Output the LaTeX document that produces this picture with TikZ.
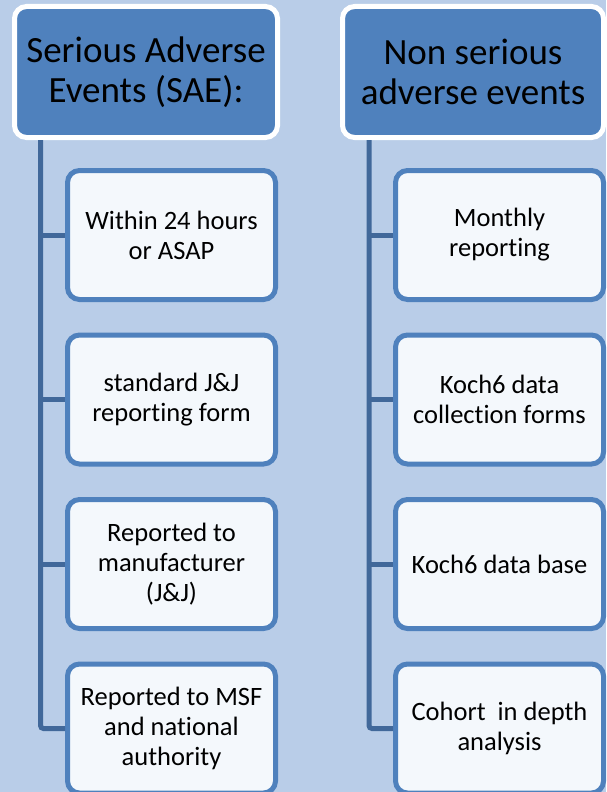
\documentclass[tikz,border=0pt]{standalone}
\usepackage{fontspec}
\setmainfont{Carlito}[Ligatures={NoCommon,NoContextual,NoRequired},Contextuals=NoAlternate]
\usepackage{tikz}
\definecolor{bgblue}{HTML}{B9CDE8}
\definecolor{hdblue}{HTML}{4F81BD}
\definecolor{itemfill}{HTML}{F4F8FC}
\definecolor{trunkblue}{HTML}{41689A}

\begin{document}
\begin{tikzpicture}[x=1pt, y=-1pt, font=\fontsize{26.5}{30}\selectfont,
    head/.style={draw=white, line width=5pt, fill=hdblue, rounded corners=12pt,
      minimum height=131pt, inner sep=0pt, align=center, font=\fontsize{37}{40}\selectfont},
    item/.style={draw=hdblue, line width=5pt, fill=itemfill, rounded corners=12pt,
      minimum width=208pt, minimum height=129pt, inner sep=0pt, align=center},
    trunk/.style={draw=trunkblue, line width=5pt, rounded corners=3pt}]
        \useasboundingbox (0,0) rectangle (606,792);
        \fill[bgblue] (0,0) rectangle (606,792);
        % trunks behind the boxes
        \coordinate (saeT) at (40.5,100);
        \coordinate (nsaeT) at (369,100);
        \node[head, minimum width=263pt] (sae) at (146,72) {Serious Adverse\\Events (SAE):};
        \node[head, minimum width=261pt] (nsae) at (473,72) {Non serious\\adverse events};
        \foreach \i/\txt in {1/{Within 24 hours\\or ASAP}, 2/{standard J\&J\\reporting form},
            3/{Reported to\\manufacturer\\(J\&J)}, 4/{Reported to MSF\\and national\\authority}}
            \node[item] (s\i) at (171.5,{235+164.5*(\i-1)}) {\txt};
        \foreach \i/\txt in {1/{Monthly\\reporting}, 2/{Koch6 data\\collection forms},
            3/{Koch6 data base}, 4/{Cohort\ \ in depth\\analysis}}
            \node[item] (n\i) at (499.5,{235+164.5*(\i-1)}) {\txt};
        \draw[trunk] (sae.south -| saeT) |- (s4.west);
        \draw[trunk] (nsae.south -| nsaeT) |- (n4.west);
        \foreach \i in {1,2,3} {
            \draw[trunk] (s\i.west -| saeT) -- (s\i.west);
            \draw[trunk] (n\i.west -| nsaeT) -- (n\i.west);
        }
    \end{tikzpicture}
\end{document}
